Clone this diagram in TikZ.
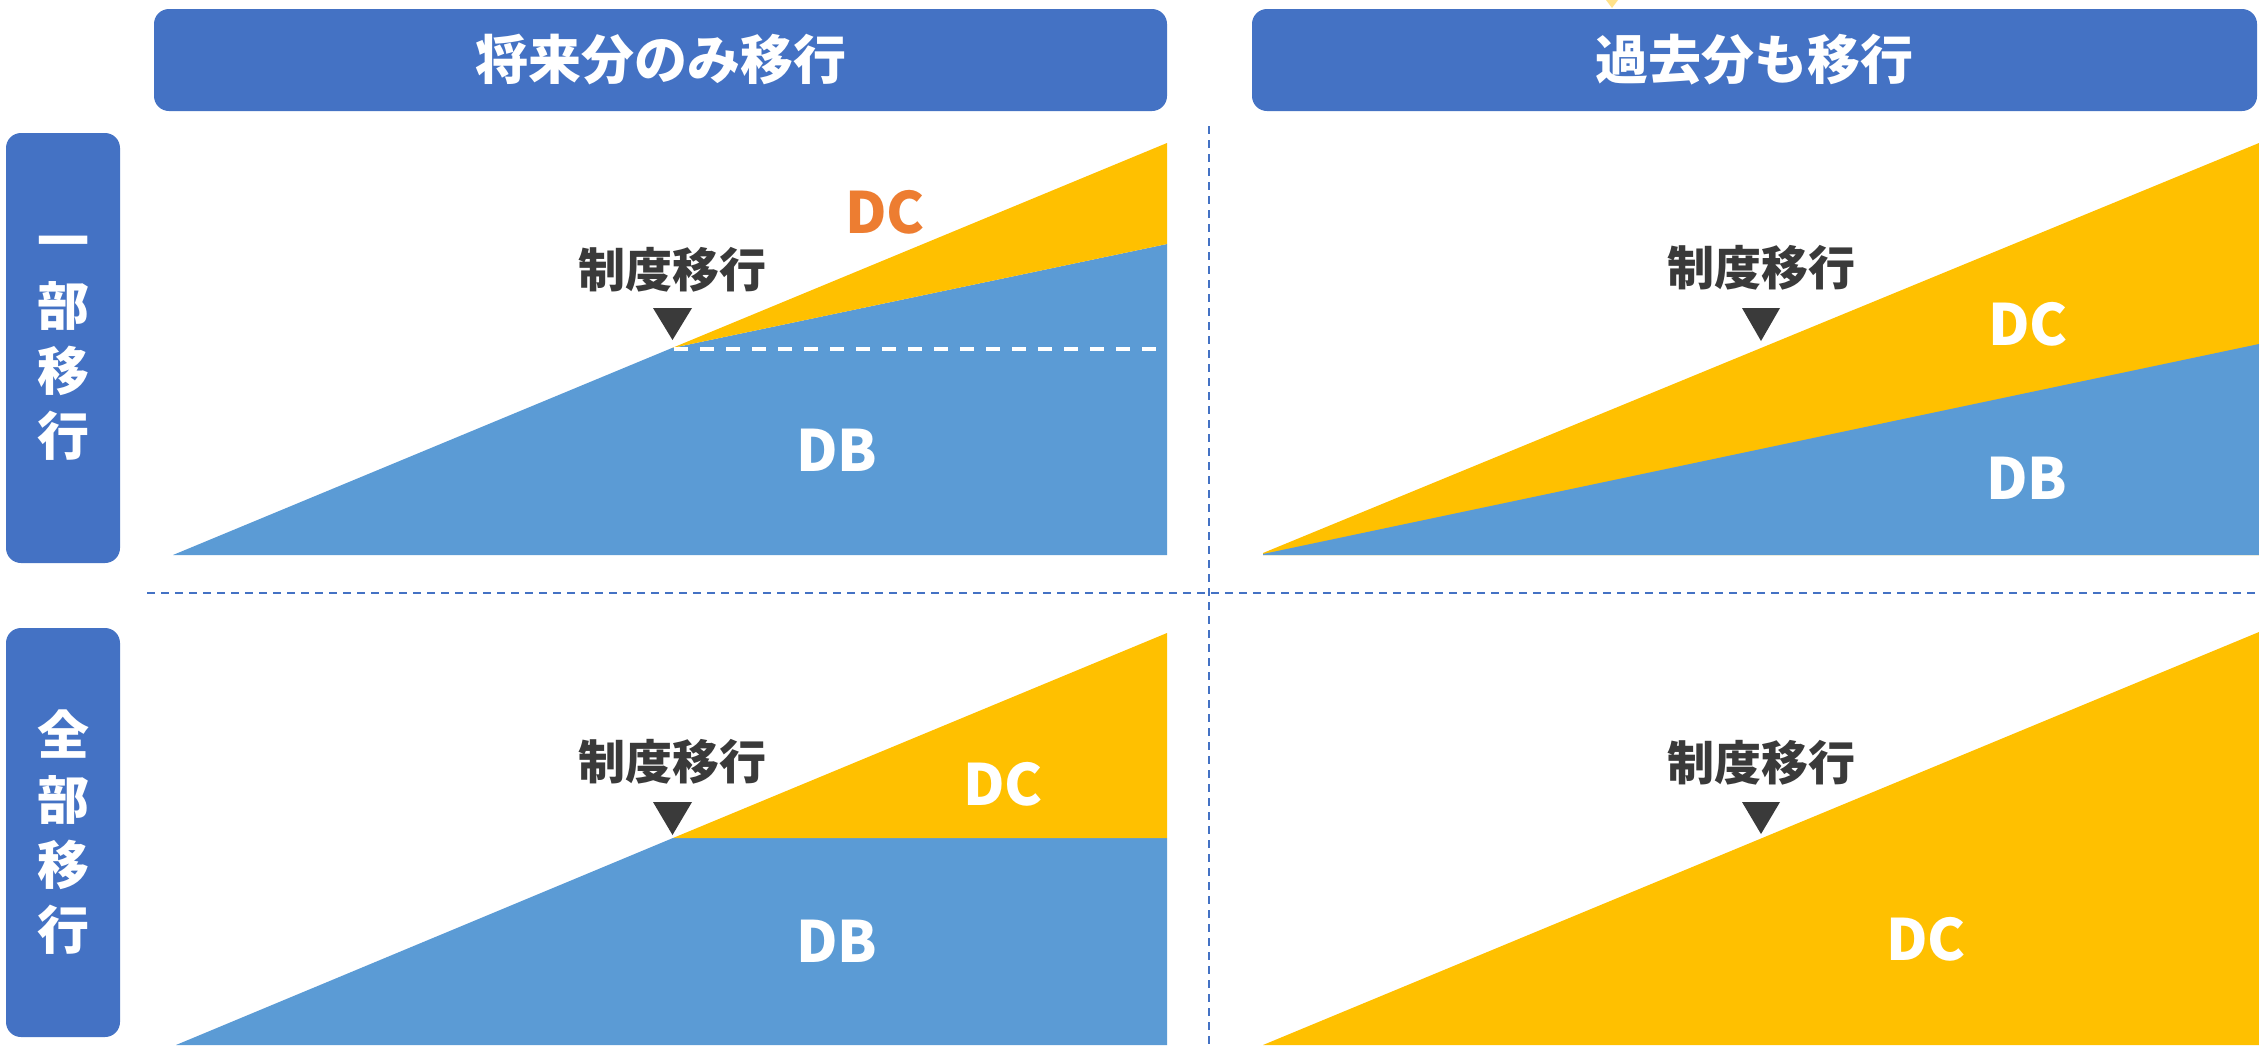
\documentclass[tikz,border=0pt]{standalone}
\usepackage{fontspec}
\setmainfont{Noto Sans CJK JP}
\definecolor{hdr}{HTML}{4472C4}
\definecolor{dbc}{HTML}{5B9BD5}
\definecolor{dcc}{HTML}{FFC000}
\definecolor{orn}{HTML}{ED7D31}
\definecolor{txt}{HTML}{3A3A3A}
\definecolor{paley}{HTML}{FFE28A}
\tikzset{
  hdrbox/.style={fill=hdr, rounded corners=15pt, inner sep=0pt, text=white,
    font=\fontsize{53}{60}\selectfont\bfseries},
  sidebox/.style={fill=hdr, rounded corners=15pt, inner sep=0pt, text=white, align=center,
    minimum width=114pt, font=\fontsize{52}{65}\selectfont\bfseries},
  evt/.style={text=txt, inner sep=0pt, font=\fontsize{47}{50}\selectfont\bfseries},
  lbl/.style={text=white, inner sep=0pt, font=\fontsize{57}{60}\selectfont\bfseries},
  lblo/.style={lbl, text=orn},
  marker/.style={fill=txt},
  sep/.style={draw=hdr, line width=2.5pt, dash pattern=on 8pt off 6pt},
}
\begin{document}
\begin{tikzpicture}[x=1pt,y=-1pt]
\useasboundingbox (0,0) rectangle (2259,1045);
\fill[white] (0,0) rectangle (2259,1045);

% tiny pale mark at top
\fill[paley] (1606,0) -- (1618,0) -- (1612,8) -- cycle;

% headers
\node[hdrbox, minimum width=1013pt, minimum height=102pt] (h1) at (660.5,60) {将来分のみ移行};
\node[hdrbox, minimum width=1005pt, minimum height=102pt] (h2) at (1754.5,60) {過去分も移行};

% side labels
\node[sidebox, minimum height=430pt] (s1) at (63,348) {一\\部\\移\\行};
\node[sidebox, minimum height=409pt] (s2) at (63,832.5) {全\\部\\移\\行};

% separators
\draw[sep] (147,593) -- (2259,593);
\draw[sep] (1209,126) -- (1209,1045);

% panel TL
\fill[dbc] (173,555) -- (672,348) -- (1167,244) -- (1167,555) -- cycle;
\fill[dcc] (672,348) -- (1167,143) -- (1167,244) -- cycle;
\draw[white, line width=4pt, dash pattern=on 14pt off 12pt] (674,349) -- (1167,349);
\fill[marker] (653,308) -- (692,308) -- (672.5,340) -- cycle;
\node[evt] (e1) at (672,270) {制度移行};
\node[lblo] (dc1) at (885,212) {DC};
\node[lbl] (db1) at (837,450) {DB};

% panel TR
\fill[dcc] (1263,553) -- (2259,143) -- (2259,555) -- (1263,555) -- cycle;
\fill[dbc] (1263,554) -- (2259,344) -- (2259,555) -- (1263,555) -- cycle;
\fill[marker] (1742,308) -- (1780,308) -- (1761,341) -- cycle;
\node[evt] (e2) at (1761,268) {制度移行};
\node[lbl] (dc2) at (2028,324) {DC};
\node[lbl] (db2) at (2027,478) {DB};

% panel BL
\fill[dbc] (176,1045) -- (673,838) -- (1167,838) -- (1167,1045) -- cycle;
\fill[dcc] (673,838) -- (1167,633) -- (1167,838) -- cycle;
\fill[marker] (653,802) -- (692,802) -- (672.5,835) -- cycle;
\node[evt] (e3) at (672,762) {制度移行};
\node[lbl] (dc3) at (1003,784) {DC};
\node[lbl] (db3) at (837,941) {DB};

% panel BR
\fill[dcc] (1263,1045) -- (2259,632) -- (2259,1045) -- cycle;
\fill[marker] (1742,802) -- (1780,802) -- (1761,834) -- cycle;
\node[evt] (e4) at (1761,763) {制度移行};
\node[lbl] (dc4) at (1926,939) {DC};
\end{tikzpicture}
\end{document}
